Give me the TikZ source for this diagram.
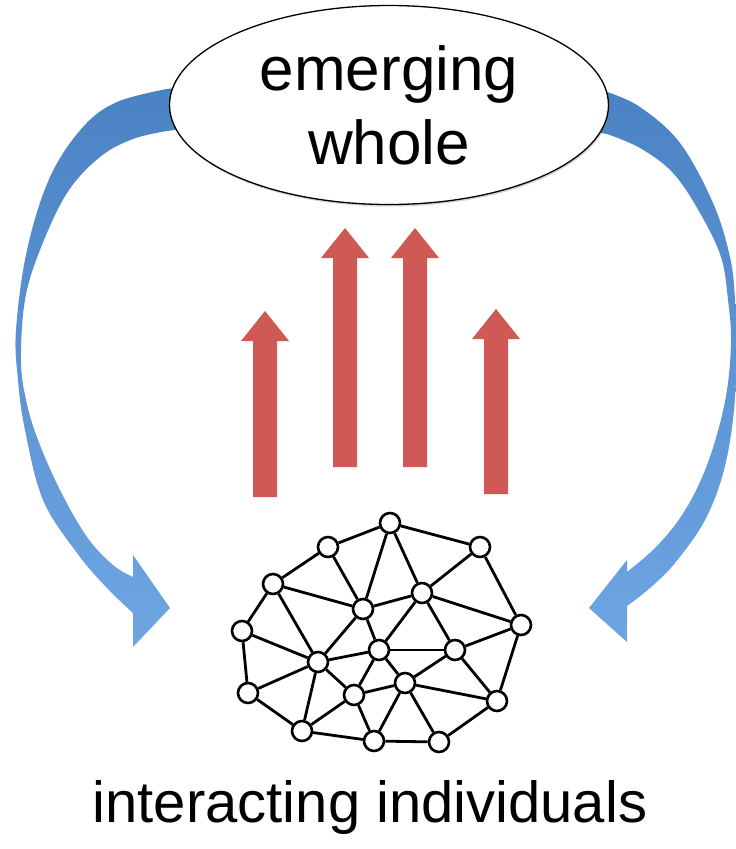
\documentclass[tikz,border=0pt]{standalone}
\usepackage{fontspec}
\setmainfont{Liberation Sans}
\usetikzlibrary{shapes.geometric,shadows}
\definecolor{redarr}{RGB}{207,90,85}
\definecolor{bluetop}{RGB}{74,130,196}
\definecolor{bluebot}{RGB}{110,166,228}
\newcommand\redup[3]{\fill[redarr] (#1-12,#3) -- (#1-12,#2+30) -- (#1-24,#2+30) -- (#1,#2) -- (#1+24,#2+30) -- (#1+12,#2+30) -- (#1+12,#3) -- cycle;}
\begin{document}
\begin{tikzpicture}[x=1pt,y=-1pt,
  netnode/.style={circle,draw=black,fill=white,line width=2.6pt,minimum size=20pt,inner sep=0pt},
  netedge/.style={draw=black,line width=2.8pt},
  bluearrow/.style={top color=bluetop,bottom color=bluebot,draw=none},
  bigtext/.style={font=\fontsize{62}{74}\selectfont,align=center}]
\useasboundingbox (0,0) rectangle (736,849);

% blue feedback arrows
\shade[bluearrow] (190,86) -- plot[smooth,tension=0.6] coordinates {(167,89) (117,102) (83,127) (50,177) (27,250) (16,330) (18,380) (25,430) (43,500) (77,553) (107,588) (133,613)}
  -- (133,647) -- (170,608) -- (133,555)
  -- plot[smooth,tension=0.6] coordinates {(133,577) (113,565) (87,537) (60,490) (38,440) (26,400) (21,360) (25,300) (40,250) (67,193) (100,157) (133,139) (167,131)}
  -- (190,128) -- cycle;
\shade[bluearrow] (585,88) -- plot[smooth,tension=0.6] coordinates {(607,92) (640,107) (680,143) (713,203) (730,257) (735,300) (736,350) (734,410) (724,470) (705,520) (675,563) (650,588) (627,606)}
  -- (627,642) -- (589,608) -- (627,560)
  -- plot[smooth,tension=0.6] coordinates {(627,572) (655,548) (680,518) (700,482) (716,438) (727,390) (731,340) (728,300) (721,257) (700,213) (673,173) (640,148) (607,134)}
  -- (585,131) -- cycle;

% red arrows
\redup{265}{311}{497}
\redup{345}{228}{467}
\redup{415}{228}{467}
\redup{496}{309}{494}

% emerging whole
\node[ellipse,draw=black,line width=1.3pt,fill=white,minimum width=439pt,minimum height=199pt,inner sep=0pt,
  drop shadow={shadow xshift=1pt,shadow yshift=-2pt,opacity=0.35},bigtext] (whole) at (389,105) {emerging\\whole};

% network
\node[netnode] (a) at (390,523) {};
\node[netnode] (b) at (328,547) {};
\node[netnode] (c) at (480,547) {};
\node[netnode] (d) at (273,584) {};
\node[netnode] (e) at (422,593) {};
\node[netnode] (f) at (363,609) {};
\node[netnode] (g) at (242,631) {};
\node[netnode] (h) at (521,625) {};
\node[netnode] (i) at (379,650) {};
\node[netnode] (j) at (455,650) {};
\node[netnode] (k) at (318,662) {};
\node[netnode] (l) at (405,683) {};
\node[netnode] (m) at (248,693) {};
\node[netnode] (n) at (354,695) {};
\node[netnode] (o) at (497,701) {};
\node[netnode] (p) at (302,731) {};
\node[netnode] (q) at (374,741) {};
\node[netnode] (r) at (439,742) {};
\foreach \u/\v in {a/b,a/c,a/f,a/e,b/d,b/f,c/e,c/h,d/g,d/f,d/k,e/f,e/h,e/i,e/j,f/k,f/i,g/k,g/m,h/j,h/o,i/k,i/j,i/n,i/l,j/l,j/o,k/m,k/n,k/p,l/n,l/q,l/o,l/r,m/p,n/p,n/q,o/r,p/q,q/r}
  \draw[netedge] (\u) -- (\v);

\node[anchor=base,font=\fontsize{58}{70}\selectfont,inner sep=0pt] (label) at (370,822) {interacting individuals};
\end{tikzpicture}
\end{document}
